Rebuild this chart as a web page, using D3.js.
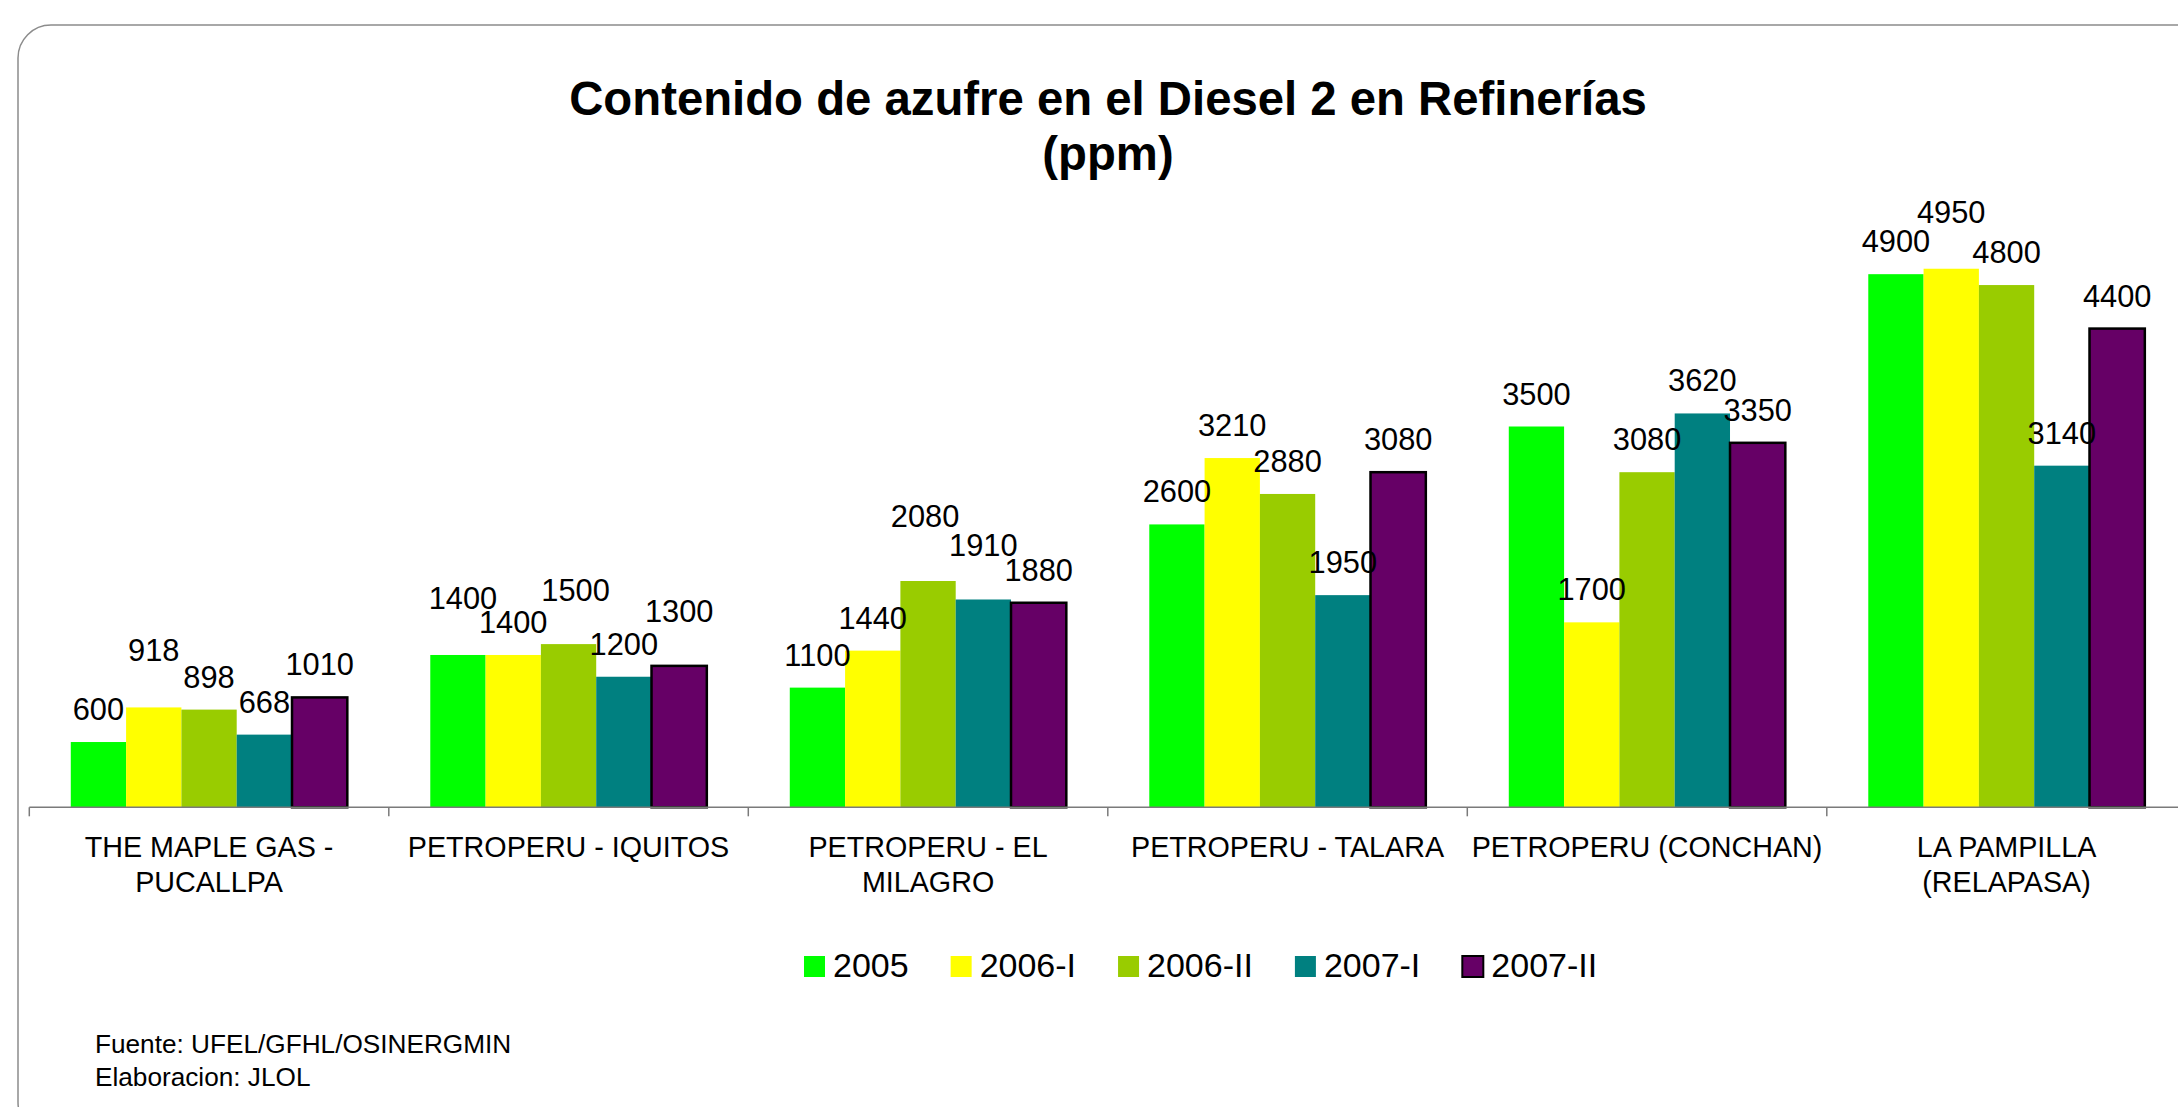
<!DOCTYPE html>
<html>
<head>
<meta charset="utf-8">
<script src="https://cdn.jsdelivr.net/npm/d3@7"></script>
<style>
  html, body { margin: 0; padding: 0; background: #fff; }
  svg { display: block; font-family: "Liberation Sans", Arial, sans-serif; }
</style>
</head>
<body>
<svg id="chart"></svg>
<script>
// --- data -------------------------------------------------------------
const categories = [
    'THE MAPLE GAS - PUCALLPA',
    'PETROPERU - IQUITOS',
    'PETROPERU - EL MILAGRO',
    'PETROPERU - TALARA',
    'PETROPERU (CONCHAN)',
    'LA PAMPILLA (RELAPASA)',
];
const categoryLines = [
    ['THE MAPLE GAS -', 'PUCALLPA'],
    ['PETROPERU - IQUITOS'],
    ['PETROPERU - EL', 'MILAGRO'],
    ['PETROPERU - TALARA'],
    ['PETROPERU (CONCHAN)'],
    ['LA PAMPILLA', '(RELAPASA)'],
];
const series   = ['2005', '2006-I', '2006-II', '2007-I', '2007-II'];
const v2005    = [600, 1400, 1100, 2600, 3500, 4900];
const v2006I   = [918, 1400, 1440, 3210, 1700, 4950];
const v2006II  = [898, 1500, 2080, 2880, 3080, 4800];
const v2007I   = [668, 1200, 1910, 1950, 3620, 3140];
const v2007II  = [1010, 1300, 1880, 3080, 3350, 4400];
const yMax     = 6000;

const values = [v2005, v2006I, v2006II, v2007I, v2007II];
const colors = ['#00ff00', '#ffff00', '#99cc00', '#008080', '#660066'];
const strokes = [null, null, null, null, '#000'];

// labels moved by hand in the original (category index, series index) -> [dx, dy]
const labelNudge = {
    '0|1': [0, -24],
    '1|0': [5, -24],
    '1|2': [7, -21],
    '1|4': [0, -22],
    '2|2': [-3, -32],
    '2|3': [0, -21],
    '5|1': [0, -24],
};

// --- layout -----------------------------------------------------------
const W = 2178, H = 1107;
const svg = d3.select('#chart').attr('width', W).attr('height', H);

svg.append('rect')
    .attr('x', 18).attr('y', 25)
    .attr('width', 2300).attr('height', 1110).attr('rx', 33)
    .attr('fill', '#fff').attr('stroke', '#8c8c8c').attr('stroke-width', 1.5);

// title
const title = svg.append('text')
    .attr('text-anchor', 'middle')
    .attr('font-size', 47.3).attr('font-weight', 'bold').attr('fill', '#000');
title.append('tspan').attr('x', 1108).attr('y', 115)
    .text('Contenido de azufre en el Diesel 2 en Refinerías');
title.append('tspan').attr('x', 1108).attr('y', 170).text('(ppm)');

const left = 29.3, step = 359.5, base = 807.3;

const x0 = d3.scaleBand()
    .domain(categories)
    .range([left, left + step * categories.length])
    .padding(0);

const x1 = d3.scaleBand()
    .domain(series)
    .range([0, x0.bandwidth()])
    .paddingInner(0)
    .paddingOuter(0.75);

const y = d3.scaleLinear()
    .domain([0, yMax])
    .range([base, base - yMax * 0.1088]);

// bars
const groups = svg.selectAll('g.cat')
    .data(categories)
    .join('g')
    .attr('class', 'cat')
    .attr('transform', d => `translate(${x0(d)},0)`);

groups.each(function (cat, ci) {
    const g = d3.select(this);
    series.forEach((s, si) => {
        const v = values[si][ci];
        g.append('rect')
            .attr('x', x1(s)).attr('y', y(v))
            .attr('width', x1.bandwidth()).attr('height', y(0) - y(v))
            .attr('fill', colors[si])
            .attr('stroke', strokes[si] || 'none')
            .attr('stroke-width', 2.5);
    });
    series.forEach((s, si) => {
        const v = values[si][ci];
        const [dx, dy] = labelNudge[ci + '|' + si] || [0, 0];
        g.append('text')
            .attr('x', x1(s) + x1.bandwidth() / 2 + dx)
            .attr('y', y(v) - 22 + dy)
            .attr('text-anchor', 'middle')
            .attr('font-size', 30.8).attr('fill', '#000')
            .text(v);
    });
});

// x axis
const axis = svg.append('g');
axis.append('line')
    .attr('x1', left).attr('x2', W + 20)
    .attr('y1', base).attr('y2', base)
    .attr('stroke', '#7a7a7a').attr('stroke-width', 1.5);
axis.selectAll('line.tick')
    .data(categories)
    .join('line')
    .attr('class', 'tick')
    .attr('x1', d => x0(d)).attr('x2', d => x0(d))
    .attr('y1', base).attr('y2', base + 9)
    .attr('stroke', '#7a7a7a').attr('stroke-width', 1.5);

axis.selectAll('text.cat')
    .data(categories)
    .join('text')
    .attr('class', 'cat')
    .attr('text-anchor', 'middle')
    .attr('font-size', 28.7).attr('fill', '#000')
    .each(function (d, i) {
        const t = d3.select(this);
        categoryLines[i].forEach((line, li) => {
            t.append('tspan')
                .attr('x', x0(d) + x0.bandwidth() / 2)
                .attr('y', 856.7 + li * 35)
                .text(line);
        });
    });

// legend
const legend = svg.append('g');
let lx = 804;
series.forEach((s, si) => {
    legend.append('rect')
        .attr('x', lx).attr('y', 956)
        .attr('width', 21).attr('height', 21)
        .attr('fill', colors[si])
        .attr('stroke', strokes[si] || 'none').attr('stroke-width', 2);
    const t = legend.append('text')
        .attr('x', lx + 29).attr('y', 977.3)
        .attr('font-size', 34).attr('fill', '#000')
        .text(s);
    lx += 29 + t.node().getComputedTextLength() + 42;
});

// footnote
svg.append('text')
    .attr('x', 95).attr('y', 1053)
    .attr('font-size', 26.2).attr('fill', '#000')
    .text('Fuente: UFEL/GFHL/OSINERGMIN');
svg.append('text')
    .attr('x', 95).attr('y', 1086)
    .attr('font-size', 26.2).attr('fill', '#000')
    .text('Elaboracion: JLOL');
</script>
</body>
</html>
